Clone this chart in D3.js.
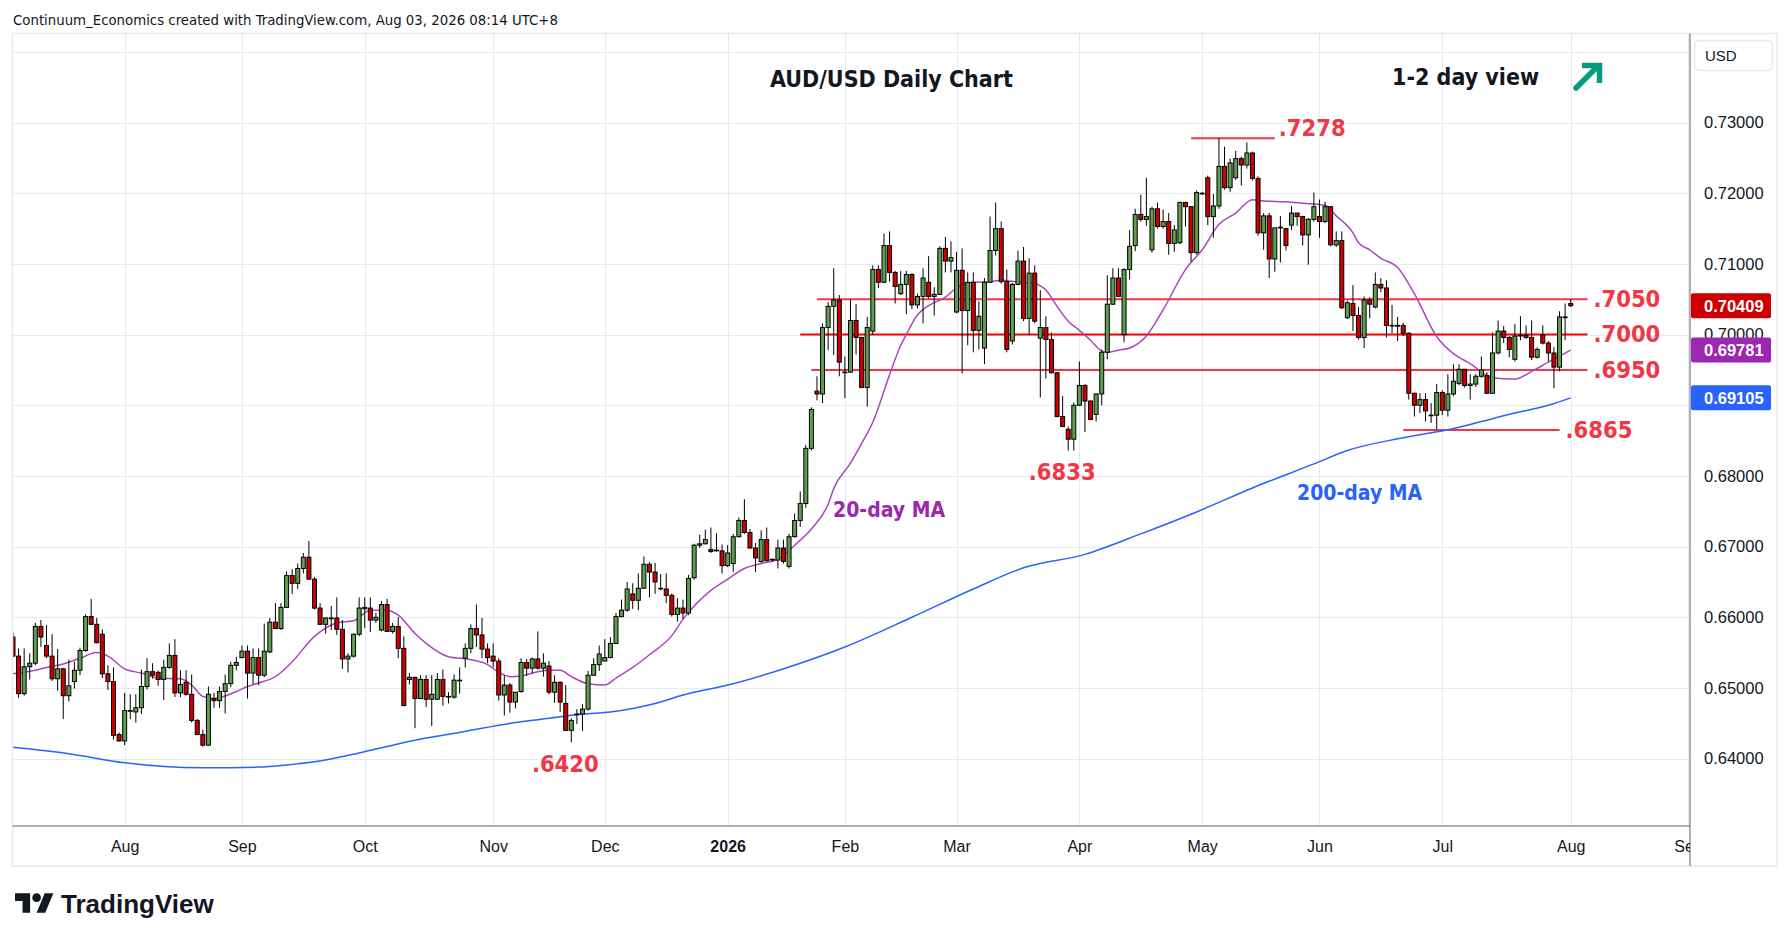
<!DOCTYPE html>
<html>
<head>
<meta charset="utf-8">
<script src="https://cdn.jsdelivr.net/npm/d3@7"></script>
<style>
html, body { margin: 0; padding: 0; background: #fff; }
svg { display: block; }
</style>
</head>
<body>
<svg id="chart" width="1789" height="941"></svg>
<script>
// ---- data ----
var firstDay = '2025-07-04';
var closedDays = ['2025-12-25', '2026-01-01'];

// daily candles [open, high, low, close], one row per trading day from firstDay
var ohlc = [
  // Jul 2025
  [0.6572,0.6578,0.6544,0.6545],[0.6545,0.6556,0.6486,0.6492],[0.6492,0.6556,0.6489,0.6530],[0.6530,0.6549,0.6512,0.6535],
  [0.6535,0.6592,0.6532,0.6587],[0.6587,0.6596,0.6558,0.6572],[0.6560,0.6589,0.6542,0.6545],[0.6545,0.6576,0.6510,0.6513],
  [0.6513,0.6555,0.6496,0.6527],[0.6527,0.6528,0.6456,0.6489],[0.6489,0.6540,0.6481,0.6503],[0.6509,0.6537,0.6499,0.6525],
  [0.6525,0.6557,0.6518,0.6553],[0.6553,0.6604,0.6551,0.6601],[0.6601,0.6626,0.6589,0.6590],[0.6590,0.6599,0.6563,0.6564],
  [0.6576,0.6583,0.6514,0.6520],[0.6520,0.6532,0.6497,0.6509],[0.6509,0.6529,0.6427,0.6433],[0.6434,0.6437,0.6424,0.6425],
  // Aug 2025
  [0.6425,0.6493,0.6419,0.6468],[0.6467,0.6491,0.6456,0.6468],[0.6466,0.6491,0.6451,0.6472],[0.6472,0.6526,0.6463,0.6502],
  [0.6502,0.6542,0.6498,0.6523],[0.6523,0.6535,0.6513,0.6518],[0.6522,0.6525,0.6503,0.6512],[0.6512,0.6540,0.6483,0.6529],
  [0.6529,0.6563,0.6527,0.6546],[0.6546,0.6569,0.6487,0.6493],[0.6493,0.6525,0.6487,0.6505],[0.6508,0.6525,0.6489,0.6491],
  [0.6491,0.6519,0.6451,0.6454],[0.6454,0.6456,0.6434,0.6434],[0.6434,0.6441,0.6417,0.6419],[0.6419,0.6502,0.6418,0.6491],
  [0.6485,0.6493,0.6472,0.6482],[0.6482,0.6502,0.6472,0.6495],[0.6495,0.6519,0.6464,0.6506],[0.6506,0.6537,0.6501,0.6532],
  [0.6532,0.6544,0.6525,0.6536],
  // Sep 2025
  [0.6543,0.6560,0.6542,0.6552],[0.6552,0.6560,0.6485,0.6521],[0.6521,0.6556,0.6505,0.6543],[0.6543,0.6556,0.6504,0.6518],
  [0.6518,0.6591,0.6515,0.6552],[0.6551,0.6599,0.6549,0.6593],[0.6593,0.6620,0.6584,0.6584],[0.6584,0.6620,0.6582,0.6614],
  [0.6614,0.6665,0.6613,0.6659],[0.6659,0.6668,0.6633,0.6648],[0.6648,0.6676,0.6640,0.6669],[0.6669,0.6691,0.6662,0.6685],
  [0.6685,0.6708,0.6653,0.6654],[0.6654,0.6657,0.6611,0.6613],[0.6613,0.6620,0.6589,0.6590],[0.6590,0.6600,0.6577,0.6599],
  [0.6599,0.6616,0.6582,0.6598],[0.6599,0.6628,0.6575,0.6583],[0.6583,0.6596,0.6527,0.6541],[0.6541,0.6549,0.6522,0.6545],
  [0.6545,0.6577,0.6543,0.6576],[0.6576,0.6628,0.6573,0.6613],
  // Oct 2025
  [0.6612,0.6628,0.6585,0.6614],[0.6613,0.6628,0.6579,0.6596],[0.6596,0.6606,0.6592,0.6600],[0.6582,0.6623,0.6580,0.6618],
  [0.6618,0.6626,0.6579,0.6580],[0.6580,0.6592,0.6577,0.6587],[0.6587,0.6600,0.6542,0.6556],[0.6556,0.6573,0.6474,0.6475],
  [0.6512,0.6521,0.6505,0.6515],[0.6515,0.6516,0.6443,0.6485],[0.6485,0.6518,0.6484,0.6512],[0.6512,0.6518,0.6473,0.6484],
  [0.6484,0.6518,0.6446,0.6491],[0.6484,0.6521,0.6483,0.6512],[0.6512,0.6526,0.6475,0.6488],[0.6488,0.6494,0.6478,0.6488],
  [0.6487,0.6519,0.6485,0.6511],[0.6510,0.6529,0.6492,0.6511],[0.6542,0.6563,0.6529,0.6556],[0.6556,0.6590,0.6549,0.6584],
  [0.6584,0.6618,0.6558,0.6575],[0.6575,0.6599,0.6542,0.6555],[0.6555,0.6563,0.6535,0.6543],
  // Nov 2025
  [0.6545,0.6563,0.6529,0.6538],[0.6538,0.6542,0.6482,0.6490],[0.6490,0.6518,0.6461,0.6504],[0.6504,0.6507,0.6465,0.6480],
  [0.6480,0.6494,0.6471,0.6494],[0.6495,0.6542,0.6493,0.6536],[0.6536,0.6541,0.6517,0.6528],[0.6528,0.6543,0.6521,0.6541],
  [0.6541,0.6580,0.6526,0.6528],[0.6528,0.6549,0.6516,0.6535],[0.6531,0.6538,0.6491,0.6494],[0.6494,0.6518,0.6479,0.6508],
  [0.6508,0.6509,0.6466,0.6480],[0.6478,0.6504,0.6439,0.6440],[0.6440,0.6457,0.6423,0.6454],[0.6463,0.6470,0.6449,0.6463],
  [0.6463,0.6477,0.6439,0.6470],[0.6470,0.6524,0.6468,0.6518],[0.6518,0.6542,0.6518,0.6533],[0.6533,0.6560,0.6524,0.6548],
  // Dec 2025
  [0.6538,0.6569,0.6538,0.6543],[0.6543,0.6572,0.6542,0.6563],[0.6563,0.6606,0.6562,0.6601],[0.6601,0.6625,0.6600,0.6610],
  [0.6610,0.6650,0.6608,0.6640],[0.6633,0.6648,0.6612,0.6624],[0.6624,0.6662,0.6610,0.6641],[0.6641,0.6686,0.6640,0.6675],
  [0.6675,0.6678,0.6628,0.6664],[0.6664,0.6677,0.6633,0.6650],[0.6641,0.6661,0.6638,0.6641],[0.6640,0.6662,0.6620,0.6631],
  [0.6631,0.6634,0.6601,0.6604],[0.6604,0.6627,0.6594,0.6613],[0.6613,0.6625,0.6598,0.6606],[0.6606,0.6660,0.6603,0.6655],
  [0.6656,0.6704,0.6653,0.6702],[0.6702,0.6717,0.6698,0.6704],[0.6704,0.6724,0.6703,0.6710],[0.6696,0.6727,0.6691,0.6693],
  [0.6694,0.6719,0.6693,0.6695],[0.6694,0.6703,0.6662,0.6673],
  // Jan 2026
  [0.6673,0.6702,0.6671,0.6691],[0.6676,0.6718,0.6664,0.6714],[0.6714,0.6741,0.6713,0.6737],[0.6737,0.6767,0.6718,0.6720],
  [0.6720,0.6725,0.6697,0.6698],[0.6698,0.6705,0.6664,0.6684],[0.6679,0.6723,0.6677,0.6710],[0.6710,0.6727,0.6679,0.6680],
  [0.6681,0.6683,0.6679,0.6682],[0.6681,0.6710,0.6669,0.6698],[0.6698,0.6710,0.6676,0.6679],[0.6672,0.6718,0.6669,0.6714],
  [0.6714,0.6747,0.6713,0.6737],[0.6737,0.6778,0.6728,0.6761],[0.6761,0.6844,0.6755,0.6839],[0.6839,0.6897,0.6836,0.6894],
  [0.6920,0.6941,0.6907,0.6916],[0.6916,0.7016,0.6903,0.7010],[0.7010,0.7046,0.6978,0.7040],[0.7040,0.7094,0.6971,0.7049],
  [0.7049,0.7056,0.6941,0.6961],
  // Feb 2026
  [0.6947,0.6969,0.6910,0.6946],[0.6947,0.7050,0.6946,0.7020],[0.7020,0.7043,0.6972,0.6996],[0.6996,0.6996,0.6925,0.6925],
  [0.6925,0.7025,0.6898,0.7010],[0.7005,0.7098,0.7000,0.7092],[0.7092,0.7098,0.7066,0.7074],[0.7074,0.7143,0.7073,0.7126],
  [0.7126,0.7146,0.7075,0.7088],[0.7088,0.7090,0.7044,0.7068],[0.7058,0.7090,0.7056,0.7071],[0.7071,0.7090,0.7029,0.7085],
  [0.7085,0.7087,0.7036,0.7042],[0.7042,0.7058,0.7037,0.7054],[0.7054,0.7094,0.7016,0.7080],[0.7074,0.7111,0.7051,0.7054],
  [0.7054,0.7067,0.7027,0.7057],[0.7057,0.7125,0.7056,0.7122],[0.7122,0.7138,0.7088,0.7104],[0.7104,0.7132,0.7088,0.7109],
  // Mar 2026
  [0.7032,0.7117,0.7030,0.7091],[0.7091,0.7122,0.6945,0.7034],[0.7034,0.7088,0.6985,0.7074],[0.7074,0.7088,0.6975,0.7006],
  [0.7006,0.7047,0.6979,0.7026],[0.6981,0.7080,0.6958,0.7074],[0.7074,0.7167,0.7073,0.7119],[0.7119,0.7187,0.7112,0.7150],
  [0.7150,0.7160,0.7072,0.7075],[0.7075,0.7092,0.6975,0.6979],[0.6991,0.7073,0.6986,0.7071],[0.7071,0.7119,0.7070,0.7104],
  [0.7104,0.7124,0.7019,0.7023],[0.7023,0.7108,0.7000,0.7087],[0.7087,0.7098,0.7016,0.7019],[0.6995,0.7063,0.6911,0.7010],
  [0.7010,0.7026,0.6938,0.6993],[0.6993,0.7003,0.6945,0.6946],[0.6946,0.6947,0.6883,0.6884],[0.6884,0.6913,0.6869,0.6870],
  [0.6866,0.6870,0.6836,0.6852],[0.6852,0.6904,0.6836,0.6900],
  // Apr 2026
  [0.6900,0.6962,0.6899,0.6928],[0.6928,0.6930,0.6862,0.6906],[0.6906,0.6907,0.6879,0.6880],[0.6887,0.6917,0.6877,0.6916],
  [0.6916,0.6979,0.6900,0.6975],[0.6975,0.7084,0.6965,0.7043],[0.7043,0.7094,0.7042,0.7080],[0.7080,0.7094,0.7053,0.7054],
  [0.7000,0.7094,0.6989,0.7092],[0.7092,0.7148,0.7078,0.7125],[0.7126,0.7178,0.7118,0.7170],[0.7170,0.7198,0.7160,0.7163],
  [0.7163,0.7222,0.7154,0.7167],[0.7120,0.7181,0.7116,0.7178],[0.7178,0.7187,0.7150,0.7153],[0.7153,0.7177,0.7150,0.7160],
  [0.7160,0.7172,0.7113,0.7129],[0.7129,0.7155,0.7117,0.7148],[0.7130,0.7188,0.7128,0.7187],[0.7187,0.7188,0.7153,0.7181],
  [0.7181,0.7182,0.7103,0.7116],[0.7116,0.7204,0.7113,0.7201],
  // May 2026
  [0.7200,0.7202,0.7198,0.7200],[0.7222,0.7225,0.7155,0.7167],[0.7167,0.7199,0.7137,0.7182],[0.7182,0.7278,0.7178,0.7238],
  [0.7238,0.7266,0.7205,0.7208],[0.7208,0.7249,0.7202,0.7243],[0.7222,0.7260,0.7219,0.7249],[0.7249,0.7252,0.7211,0.7240],
  [0.7240,0.7272,0.7235,0.7257],[0.7257,0.7259,0.7218,0.7221],[0.7221,0.7224,0.7140,0.7144],[0.7144,0.7172,0.7120,0.7168],
  [0.7168,0.7172,0.7080,0.7107],[0.7107,0.7151,0.7089,0.7151],[0.7152,0.7168,0.7102,0.7151],[0.7150,0.7150,0.7119,0.7126],
  [0.7155,0.7182,0.7148,0.7172],[0.7172,0.7172,0.7154,0.7167],[0.7167,0.7168,0.7126,0.7141],[0.7141,0.7165,0.7099,0.7163],
  [0.7163,0.7201,0.7160,0.7181],
  // Jun 2026
  [0.7167,0.7191,0.7137,0.7160],[0.7160,0.7188,0.7158,0.7181],[0.7181,0.7182,0.7125,0.7127],[0.7127,0.7146,0.7124,0.7133],
  [0.7133,0.7146,0.7036,0.7038],[0.7024,0.7048,0.7022,0.7045],[0.7044,0.7070,0.7005,0.7027],[0.7027,0.7039,0.6993,0.6996],
  [0.6996,0.7054,0.6981,0.7049],[0.7049,0.7053,0.7023,0.7043],[0.7039,0.7088,0.7037,0.7071],[0.7071,0.7080,0.7060,0.7066],
  [0.7066,0.7077,0.6996,0.7013],[0.7013,0.7042,0.7002,0.7013],[0.7013,0.7025,0.6991,0.7012],[0.7013,0.7017,0.6998,0.7002],
  [0.7002,0.7003,0.6908,0.6917],[0.6917,0.6918,0.6884,0.6900],[0.6900,0.6917,0.6889,0.6908],[0.6908,0.6917,0.6877,0.6892],
  [0.6886,0.6903,0.6875,0.6886],[0.6886,0.6930,0.6866,0.6918],
  // Jul 2026
  [0.6918,0.6921,0.6886,0.6893],[0.6893,0.6944,0.6884,0.6916],[0.6916,0.6958,0.6913,0.6934],[0.6931,0.6958,0.6928,0.6951],
  [0.6951,0.6951,0.6925,0.6928],[0.6928,0.6944,0.6908,0.6930],[0.6930,0.6944,0.6926,0.6941],[0.6941,0.6969,0.6939,0.6950],
  [0.6942,0.6947,0.6916,0.6917],[0.6917,0.7003,0.6916,0.6974],[0.6974,0.7020,0.6972,0.7005],[0.7005,0.7012,0.6988,0.6996],
  [0.6996,0.6998,0.6968,0.6979],[0.6965,0.7015,0.6962,0.6998],[0.6998,0.7026,0.6992,0.6999],[0.6999,0.7013,0.6994,0.6996],
  [0.6996,0.7020,0.6964,0.6968],[0.6968,0.6982,0.6966,0.6979],[0.6999,0.7013,0.6986,0.6988],[0.6988,0.6991,0.6962,0.6974],
  [0.6974,0.6982,0.6924,0.6954],[0.6954,0.7033,0.6948,0.7025],[0.7025,0.7044,0.6992,0.7024],
  // Aug 2026
  [0.7044,0.7050,0.7039,0.70409]
];

// moving averages [date, value]
var ma20 = [
  ['2025-07-04',0.6520],['2025-07-10',0.6525],['2025-07-14',0.6529],['2025-07-17',0.6534],['2025-07-22',0.6542],
  ['2025-07-25',0.6550],['2025-07-29',0.6545],['2025-08-01',0.6527],['2025-08-06',0.6521],['2025-08-11',0.6514],
  ['2025-08-15',0.6513],['2025-08-19',0.6504],['2025-08-21',0.6488],['2025-08-25',0.6485],['2025-08-29',0.6495],
  ['2025-09-02',0.6502],['2025-09-04',0.6507],['2025-09-09',0.6516],['2025-09-12',0.6537],['2025-09-18',0.6573],
  ['2025-09-24',0.6592],['2025-09-29',0.6595],['2025-10-02',0.6610],['2025-10-07',0.6610],['2025-10-09',0.6603],
  ['2025-10-14',0.6577],['2025-10-16',0.6563],['2025-10-22',0.6544],['2025-10-28',0.6540],['2025-10-31',0.6533],
  ['2025-11-04',0.6522],['2025-11-06',0.6516],['2025-11-10',0.6517],['2025-11-13',0.6523],['2025-11-17',0.6525],
  ['2025-11-19',0.6525],['2025-11-21',0.6516],['2025-11-26',0.6506],['2025-12-01',0.6504],['2025-12-03',0.6514],
  ['2025-12-08',0.6529],['2025-12-11',0.6547],['2025-12-17',0.6574],['2025-12-19',0.6597],['2025-12-29',0.6638],
  ['2026-01-02',0.6654],['2026-01-07',0.6669],['2026-01-12',0.6676],['2026-01-15',0.6682],['2026-01-20',0.6702],
  ['2026-01-23',0.6725],['2026-01-28',0.6760],['2026-01-29',0.6782],['2026-02-03',0.6818],['2026-02-05',0.6846],
  ['2026-02-09',0.6876],['2026-02-12',0.6943],['2026-02-16',0.6985],['2026-02-17',0.7000],['2026-02-19',0.7028],
  ['2026-02-23',0.7041],['2026-02-26',0.7053],['2026-03-02',0.7066],['2026-03-05',0.7074],['2026-03-10',0.7075],
  ['2026-03-12',0.7077],['2026-03-17',0.7074],['2026-03-20',0.7072],['2026-03-24',0.7063],['2026-03-26',0.7040],
  ['2026-03-30',0.7019],['2026-04-01',0.7006],['2026-04-03',0.6992],['2026-04-07',0.6977],['2026-04-08',0.6975],
  ['2026-04-10',0.6978],['2026-04-14',0.6981],['2026-04-17',0.6998],['2026-04-22',0.7035],['2026-04-28',0.7092],
  ['2026-05-01',0.7120],['2026-05-06',0.7156],['2026-05-11',0.7172],['2026-05-14',0.7191],['2026-05-18',0.7189],
  ['2026-05-22',0.7188],['2026-05-27',0.7186],['2026-06-02',0.7183],['2026-06-04',0.7168],['2026-06-09',0.7144],
  ['2026-06-10',0.7130],['2026-06-12',0.7120],['2026-06-16',0.7108],['2026-06-19',0.7095],['2026-06-24',0.7058],
  ['2026-06-30',0.6997],['2026-07-03',0.6973],['2026-07-08',0.6959],['2026-07-14',0.6939],['2026-07-20',0.6937],
  ['2026-07-23',0.6948],['2026-07-28',0.6961],['2026-08-03',0.69781]
];
var ma200 = [
  ['2025-07-04',0.6416],['2025-07-18',0.6407],['2025-08-01',0.6394],['2025-08-21',0.6387],['2025-09-04',0.6388],
  ['2025-09-11',0.6391],['2025-09-22',0.6398],['2025-09-30',0.6408],['2025-10-08',0.6419],['2025-10-16',0.6429],
  ['2025-10-24',0.6437],['2025-10-30',0.6443],['2025-11-07',0.6451],['2025-11-17',0.6457],['2025-11-25',0.6463],
  ['2025-12-02',0.6466],['2025-12-08',0.6471],['2025-12-12',0.6478],['2025-12-19',0.6490],['2026-01-05',0.6506],
  ['2026-01-21',0.6535],['2026-02-02',0.6558],['2026-02-18',0.6600],['2026-03-05',0.6640],['2026-03-18',0.6670],
  ['2026-04-02',0.6689],['2026-04-16',0.6718],['2026-04-30',0.6749],['2026-05-14',0.6783],['2026-05-29',0.6817],
  ['2026-06-08',0.6836],['2026-06-22',0.6854],['2026-07-03',0.6867],['2026-07-10',0.6877],['2026-07-20',0.6889],
  ['2026-07-28',0.6900],['2026-08-03',0.69105]
];

// horizontal levels [price, from, to, label]
var levels = [
  [0.7278, '2026-04-29', '2026-05-20', '.7278'],
  [0.7050, '2026-01-26', '2026-08-06', '.7050'],
  [0.7000, '2026-01-21', '2026-08-06', '.7000'],
  [0.6950, '2026-01-23', '2026-08-06', '.6950'],
  [0.6865, '2026-06-22', '2026-07-30', '.6865']
];
var lowLabels = [['.6833', '2026-03-30', 0.6836], ['.6420', '2025-11-21', 0.6423]];

var timeLabels = ['Aug', 'Sep', 'Oct', 'Nov', 'Dec', '2026', 'Feb', 'Mar', 'Apr', 'May', 'Jun', 'Jul', 'Aug', 'Sep'];
var gridPrices = [0.64, 0.65, 0.66, 0.67, 0.68, 0.69, 0.70, 0.71, 0.72, 0.73, 0.74];
var priceTicks = [0.64, 0.65, 0.66, 0.67, 0.68, 0.70, 0.71, 0.72, 0.73];
var tagValues = [0.70409, 0.69781, 0.69105];

// ---- layout ----
var plot = { left: 12.5, top: 33.5, right: 1690, bottom: 826 };
var frameRight = 1777, frameBottom = 866;
var upCol = '#5e9e4c', downCol = '#cc0000';
var levelCol = '#f23645';
var maCol = '#ab47bc', maText = '#9c27b0', ma200Col = '#2962ff';
var tagCols = [downCol, '#9c27b0', '#2962ff'];
var ui = '"DejaVu Sans Condensed", "DejaVu Sans", sans-serif';
var axisFont = '"Liberation Sans", Arial, sans-serif';

// trading calendar (weekdays minus closed days)
function buildDays(start, count, closed) {
  var out = [];
  var d = new Date(start + 'T00:00:00Z');
  while (out.length < count) {
    var s = d.toISOString().slice(0, 10);
    var wd = d.getUTCDay();
    if (wd !== 0 && wd !== 6 && closed.indexOf(s) < 0) out.push(s);
    d.setUTCDate(d.getUTCDate() + 1);
  }
  return out;
}
var days = buildDays(firstDay, ohlc.length + 24, closedDays);
var dayIdx = {};
days.forEach(function (s, i) { dayIdx[s] = i; });
var monthStarts = [];
days.forEach(function (s, i) {
  if (i > 0 && s.slice(5, 7) !== days[i - 1].slice(5, 7)) monthStarts.push(i);
});
monthStarts = monthStarts.slice(0, timeLabels.length);

var x = d3.scaleLinear().domain([0, ohlc.length - 1]).range([13.0, 1570.7]);
var y = d3.scaleLinear().domain([0.64, 0.73]).range([758.6, 122.6]);

var svg = d3.select('#chart');
var defs = svg.append('defs');
defs.append('clipPath').attr('id', 'plotClip').append('rect')
  .attr('x', plot.left).attr('y', plot.top)
  .attr('width', plot.right - plot.left).attr('height', plot.bottom - plot.top);
defs.append('clipPath').attr('id', 'timeClip').append('rect')
  .attr('x', plot.left).attr('y', plot.bottom)
  .attr('width', plot.right - plot.left).attr('height', frameBottom - plot.bottom);

svg.append('rect').attr('width', 1789).attr('height', 941).attr('fill', '#fff');

// header
svg.append('text')
  .attr('x', 13).attr('y', 25)
  .style('font-family', ui).style('font-size', '14.8px').attr('fill', '#131722')
  .text('Continuum_Economics created with TradingView.com, Aug 03, 2026 08:14 UTC+8');

// grid
var grid = svg.append('g').attr('clip-path', 'url(#plotClip)');
grid.selectAll('.hgrid').data(gridPrices).enter().append('line')
  .attr('x1', plot.left).attr('x2', plot.right)
  .attr('y1', function (d) { return Math.round(y(d)) + 0.5; })
  .attr('y2', function (d) { return Math.round(y(d)) + 0.5; })
  .attr('stroke', '#e3eaf0').attr('stroke-width', 1);
grid.selectAll('.vgrid').data(monthStarts).enter().append('line')
  .attr('x1', function (d) { return Math.round(x(d)) + 0.5; })
  .attr('x2', function (d) { return Math.round(x(d)) + 0.5; })
  .attr('y1', plot.top).attr('y2', plot.bottom)
  .attr('stroke', '#e3eaf0').attr('stroke-width', 1);

var g = svg.append('g').attr('clip-path', 'url(#plotClip)');

// level lines
g.selectAll('.level').data(levels).enter().append('line')
  .attr('x1', function (d) { return x(dayIdx[d[1]]); })
  .attr('x2', function (d) { return x(dayIdx[d[2]]); })
  .attr('y1', function (d) { return y(d[0]); })
  .attr('y2', function (d) { return y(d[0]); })
  .attr('stroke', function (d) { return d[0] === 0.70 ? '#ff0000' : levelCol; })
  .attr('stroke-width', 2);

// moving averages
var maLine = d3.line()
  .x(function (d) { return x(dayIdx[d[0]]); })
  .y(function (d) { return y(d[1]); })
  .curve(d3.curveMonotoneX);
g.append('path').datum(ma200).attr('d', maLine)
  .attr('fill', 'none').attr('stroke', ma200Col).attr('stroke-width', 1.5);
g.append('path').datum(ma20).attr('d', maLine)
  .attr('fill', 'none').attr('stroke', maCol).attr('stroke-width', 1.5);

// candles
var candle = g.selectAll('.candle').data(ohlc).enter().append('g');
candle.append('line')
  .attr('x1', function (d, i) { return x(i); })
  .attr('x2', function (d, i) { return x(i); })
  .attr('y1', function (d) { return y(d[1]); })
  .attr('y2', function (d) { return y(d[2]); })
  .attr('stroke', '#000').attr('stroke-width', 1);
candle.append('rect')
  .attr('x', function (d, i) { return x(i) - 2.0; })
  .attr('width', 4.0)
  .attr('y', function (d) { return y(Math.max(d[0], d[3])); })
  .attr('height', function (d) { return Math.max(0.6, Math.abs(y(d[0]) - y(d[3]))); })
  .attr('fill', function (d) { return d[3] >= d[0] ? upCol : downCol; })
  .attr('stroke', '#000').attr('stroke-width', 1);

// frame and axis lines
svg.append('rect')
  .attr('x', plot.left).attr('y', plot.top)
  .attr('width', frameRight - plot.left).attr('height', frameBottom - plot.top)
  .attr('fill', 'none').attr('stroke', '#e6e9ee').attr('stroke-width', 1.5);
svg.append('line')
  .attr('x1', plot.left).attr('x2', plot.right)
  .attr('y1', plot.bottom).attr('y2', plot.bottom)
  .attr('stroke', '#5d606b').attr('stroke-width', 1);
svg.append('line')
  .attr('x1', plot.right).attr('x2', plot.right)
  .attr('y1', plot.top).attr('y2', frameBottom)
  .attr('stroke', '#5d606b').attr('stroke-width', 1);

// time axis
var xAxis = d3.axisBottom(x)
  .tickValues(monthStarts)
  .tickFormat(function (d, i) { return timeLabels[i]; })
  .tickSize(0).tickPadding(14.5);
var xa = svg.append('g').attr('clip-path', 'url(#timeClip)')
  .append('g').attr('transform', 'translate(0,' + plot.bottom + ')').call(xAxis);
xa.select('.domain').remove();
xa.selectAll('text')
  .style('font-family', axisFont).style('font-size', '16px').attr('fill', '#131722')
  .style('font-weight', function (d, i) { return timeLabels[i] === '2026' ? 'bold' : 'normal'; });

// price axis
var yAxis = d3.axisRight(y)
  .tickValues(priceTicks)
  .tickFormat(d3.format('.5f'))
  .tickSize(0).tickPadding(14);
var ya = svg.append('g').attr('transform', 'translate(' + plot.right + ',0)').call(yAxis);
ya.select('.domain').remove();
ya.selectAll('text')
  .style('font-family', axisFont).style('font-size', '16.5px').attr('fill', '#131722');

// last value tags
var tags = svg.selectAll('.tag').data(tagValues).enter().append('g');
tags.append('rect')
  .attr('x', plot.right + 1).attr('width', 80)
  .attr('y', function (d) { return y(d) - 12.5; }).attr('height', 25)
  .attr('rx', 2).attr('fill', function (d, i) { return tagCols[i]; });
tags.append('text')
  .attr('x', plot.right + 14).attr('y', function (d) { return y(d); }).attr('dy', '0.36em')
  .style('font-family', axisFont).style('font-size', '16.5px').style('font-weight', 'bold')
  .attr('fill', '#fff')
  .text(function (d) { return d3.format('.5f')(d); });

// currency box
svg.append('rect')
  .attr('x', 1694.5).attr('y', 40.5).attr('width', 78).attr('height', 30).attr('rx', 5)
  .attr('fill', '#fff').attr('stroke', '#e6e9ee').attr('stroke-width', 1.5);
svg.append('text')
  .attr('x', 1705).attr('y', 61)
  .style('font-family', axisFont).style('font-size', '15px').attr('fill', '#131722')
  .text('USD');

// level labels
svg.selectAll('.levelLabel').data(levels).enter().append('text')
  .attr('x', function (d) { return x(dayIdx[d[2]]) + (d[0] === 0.7278 ? 4 : 6); })
  .attr('y', function (d) { return y(d[0]); })
  .attr('dy', function (d) { return d[0] === 0.7278 ? '-0.1em' : '0.33em'; })
  .style('font-family', ui).style('font-size', '23.5px').style('font-weight', 'bold').attr('fill', levelCol)
  .text(function (d) { return d[3]; });
svg.selectAll('.lowLabel').data(lowLabels).enter().append('text')
  .attr('x', function (d) { return x(dayIdx[d[1]]) - 6; })
  .attr('y', function (d) { return y(d[2]) + 29.5; })
  .attr('text-anchor', 'middle')
  .style('font-family', ui).style('font-size', '23.5px').style('font-weight', 'bold').attr('fill', levelCol)
  .text(function (d) { return d[0]; });

// MA labels
svg.append('text').attr('x', 833).attr('y', 517)
  .style('font-family', ui).style('font-size', '21px').style('font-weight', 'bold').attr('fill', maText)
  .text('20-day MA');
svg.append('text').attr('x', 1297).attr('y', 500)
  .style('font-family', ui).style('font-size', '21px').style('font-weight', 'bold').attr('fill', ma200Col)
  .text('200-day MA');

// titles
svg.append('text').attr('x', 770).attr('y', 87)
  .style('font-family', ui).style('font-size', '23px').style('font-weight', 'bold').attr('fill', '#131722')
  .text('AUD/USD Daily Chart');
svg.append('text').attr('x', 1392).attr('y', 85)
  .style('font-family', ui).style('font-size', '23px').style('font-weight', 'bold').attr('fill', '#131722')
  .text('1-2 day view');

// view arrow
var arrow = svg.append('g').attr('stroke', '#089981').attr('stroke-width', 5.5).attr('fill', 'none');
arrow.append('line').attr('x1', 1576).attr('y1', 88).attr('x2', 1597).attr('y2', 67).attr('stroke-linecap', 'round');
arrow.append('polyline').attr('points', '1582,65.5 1599.5,65.5 1599.5,83').attr('stroke-linejoin', 'miter');

// TradingView logo
var logo = svg.append('g').attr('transform', 'translate(15,889) scale(1.08)').attr('fill', '#131722');
logo.append('path').attr('d', 'M14 22H7V11H0V4h14v18z');
logo.append('path').attr('d', 'M28 22h-8l7.5-18h8L28 22z');
logo.append('circle').attr('cx', 20).attr('cy', 8).attr('r', 4);
svg.append('text').attr('x', 61).attr('y', 913)
  .style('font-family', axisFont).style('font-size', '26px').style('font-weight', 'bold').attr('fill', '#131722')
  .text('TradingView');
</script>
</body>
</html>
